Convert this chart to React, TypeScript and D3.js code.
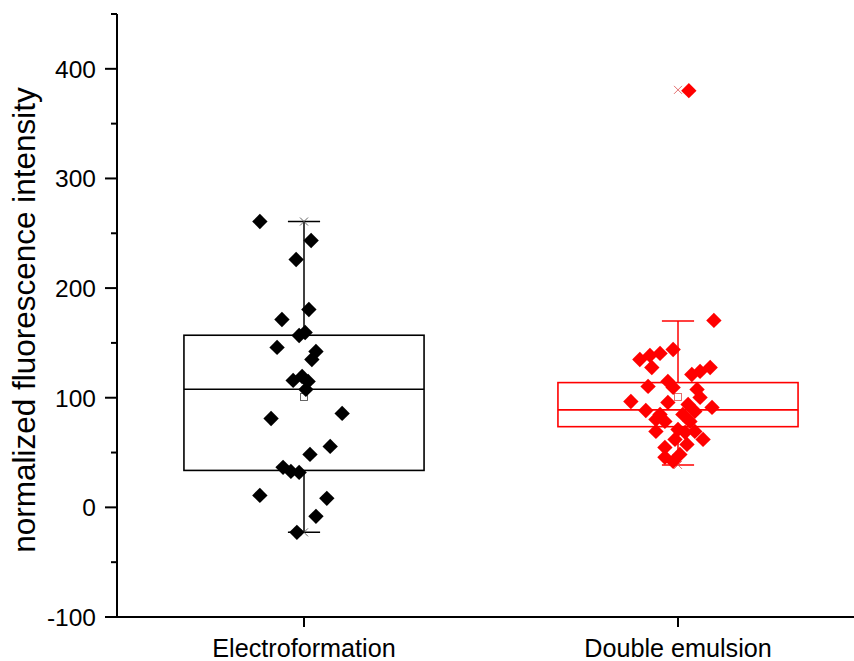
import React from "react";
import * as d3 from "d3";

const categories = ["Electroformation", "Double emulsion"];
const colors = ["#000000", "#ff0000"];

const electroValues = [260.7, 243.4, 226.1, 180.5, 171.4, 156.8, 159.5, 145.9, 142.2, 134.9, 115.8, 119.4, 114.9, 107.6, 81.1, 85.7, 48.3, 55.6, 36.5, 32.8, 31.9, 10.9, 8.2, -8.2, -22.8];
const electroJitter = [-0.118, 0.019, -0.021, 0.013, -0.059, -0.013, 0.003, -0.072, 0.032, 0.021, -0.029, -0.005, 0.011, 0.005, -0.088, 0.102, 0.016, 0.07, -0.056, -0.035, -0.013, -0.118, 0.061, 0.032, -0.019];

const emulsionValues = [380.1, 170.5, 134.9, 138.6, 140.4, 144.0, 127.6, 110.3, 114.9, 109.4, 96.6, 88.4, 84.8, 95.7, 78.4, 69.3, 54.7, 45.6, 41.9, 48.3, 57.4, 68.4, 69.3, 78.4, 87.5, 100.3, 107.6, 121.2, 124.0, 127.6, 91.2, 62.0, 71.0, 84.8, 93.9, 80.2, 62.0];
const emulsionJitter = [0.029, 0.096, -0.102, -0.075, -0.048, -0.013, -0.07, -0.08, -0.027, -0.013, -0.126, -0.086, -0.048, -0.027, -0.035, -0.059, -0.035, -0.035, -0.013, 0.005, 0.024, 0.019, 0.045, 0.032, 0.045, 0.059, 0.051, 0.037, 0.059, 0.086, 0.091, -0.008, 0.0, 0.013, 0.027, -0.059, 0.067];

const q1 = [33.7, 73.6];
const median = [107.7, 88.9];
const q3 = [157.0, 113.8];
const whiskerLow = [-22.8, 38.7];
const whiskerHigh = [260.7, 170.0];
const means = [100.7, 100.7];
const minMark = [-22.8, 38.7];
const maxMark = [260.7, 380.8];

const majorTicks = [-100, 0, 100, 200, 300, 400];
const minorTicks = [-50, 50, 150, 250, 350, 450];

export default function App() {
  const W = 854, H = 661;
  const x = d3.scaleLinear().domain([0.5, 2.5]).range([117, 865]);
  const y = d3.scaleLinear().domain([-100, 450]).range([617, 14]);
  const boxHalf = 0.321; // in category units
  const capHalf = 0.043;
  const diamond = d3.symbol(d3.symbolSquare, 118)()!;
  const series = [
    { values: electroValues, jitter: electroJitter },
    { values: emulsionValues, jitter: emulsionJitter },
  ];
  const font = "Liberation Sans, Arial, sans-serif";
  const cross = (cx: number, cy: number, color: string, key: string) => (
    <g key={key} stroke={color} strokeWidth={0.9}>
      <line x1={cx - 4} y1={cy - 4} x2={cx + 4} y2={cy + 4} />
      <line x1={cx - 4} y1={cy + 4} x2={cx + 4} y2={cy - 4} />
    </g>
  );
  return (
    <svg width={W} height={H} style={{ position: "absolute", left: 0, top: 0, background: "#fff" }} fontFamily={font}>
      {categories.map((c, i) => {
        const cx = x(i + 1);
        const col = colors[i];
        const x0 = x(i + 1 - boxHalf), x1 = x(i + 1 + boxHalf);
        const cw = x(i + 1 + capHalf) - cx;
        return (
          <g key={c}>
            <line x1={cx} x2={cx} y1={y(q3[i])} y2={y(whiskerHigh[i])} stroke={col} strokeWidth={1.5} />
            <line x1={cx} x2={cx} y1={y(q1[i])} y2={y(whiskerLow[i])} stroke={col} strokeWidth={1.5} />
            <line x1={cx - cw} x2={cx + cw} y1={y(whiskerHigh[i])} y2={y(whiskerHigh[i])} stroke={col} strokeWidth={1.5} />
            <line x1={cx - cw} x2={cx + cw} y1={y(whiskerLow[i])} y2={y(whiskerLow[i])} stroke={col} strokeWidth={1.5} />
            <rect x={x0} y={y(q3[i])} width={x1 - x0} height={y(q1[i]) - y(q3[i])} fill="none" stroke={col} strokeWidth={1.6} />
            <line x1={x0} x2={x1} y1={y(median[i])} y2={y(median[i])} stroke={col} strokeWidth={1.6} />
            <rect x={cx - 3.5} y={y(means[i]) - 3.5} width={7} height={7} fill="none" stroke={i === 0 ? "#555" : "#e06060"} strokeWidth={0.9} />
            {cross(cx, y(minMark[i]), i === 0 ? "#555" : "#e06060", "mn")}
            {cross(cx, y(maxMark[i]), i === 0 ? "#555" : "#e06060", "mx")}
            {series[i].values.map((v, k) => (
              <path key={k} d={diamond} fill={col} transform={`translate(${x(i + 1 + series[i].jitter[k])},${y(v)}) rotate(45)`} />
            ))}
          </g>
        );
      })}
      {/* axes */}
      <line x1={117} x2={117} y1={y(450)} y2={y(-100)} stroke="#000" strokeWidth={2} />
      <line x1={106} x2={W + 5} y1={y(-100)} y2={y(-100)} stroke="#000" strokeWidth={2} />
      {majorTicks.map((t) => (
        <g key={t}>
          <line x1={105} x2={117} y1={y(t)} y2={y(t)} stroke="#000" strokeWidth={2} />
          <text x={96} y={y(t)} dy="0.36em" textAnchor="end" fontSize={24.5} fill="#000">{t}</text>
        </g>
      ))}
      {minorTicks.map((t) => (
        <line key={t} x1={111} x2={117} y1={y(t)} y2={y(t)} stroke="#000" strokeWidth={2} />
      ))}
      {categories.map((c, i) => (
        <g key={c}>
          <line x1={x(i + 1)} x2={x(i + 1)} y1={y(-100)} y2={y(-100) + 10} stroke="#000" strokeWidth={2} />
          <text x={x(i + 1)} y={657} textAnchor="middle" fontSize={25.2} fill="#000">{c}</text>
        </g>
      ))}
      <text transform={`translate(35,${(85 + 555) / 2}) rotate(-90)`} textAnchor="middle" fontSize={31.5} fill="#000">normalized fluorescence intensity</text>
    </svg>
  );
}
